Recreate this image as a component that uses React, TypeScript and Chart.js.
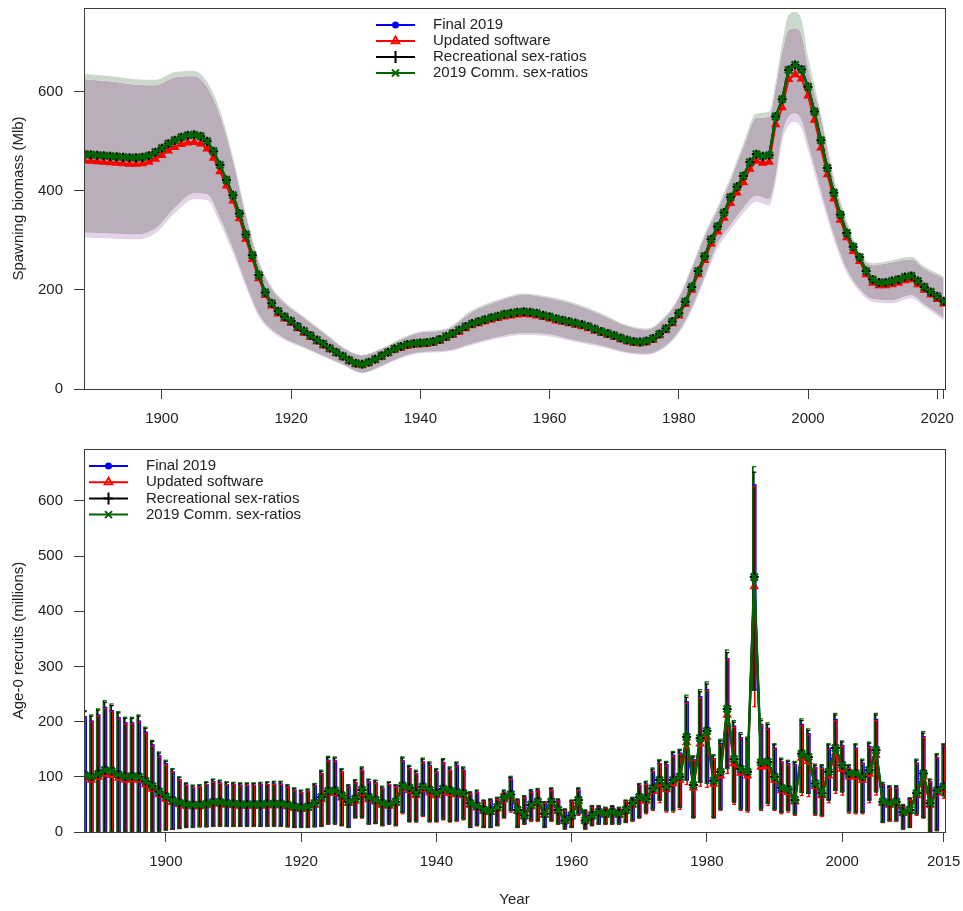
import React, { useEffect, useRef } from 'react';
import { Chart, registerables } from 'chart.js';

Chart.register(...registerables);

const FONT = "'Liberation Sans', Arial, Helvetica, sans-serif";
const TEXT = '#222222';
const AXIS = '#3c3c3c';

const seriesNames = ['Final 2019', 'Updated software', 'Recreational sex-ratios', '2019 Comm. sex-ratios'];
const seriesColors = ['#0000ff', '#ff0000', '#000000', '#006400'];
const seriesMarkers = ['circle', 'triangle', 'cross', 'crossRot'];

// ---------------- Spawning biomass (Mlb), 1888-2021 ----------------
const spawnFirstYear = 1888;
const spawnComm = [
  474, 473,
  472, 471, 470, 469, 468, 467, 467, 468, 471, 478,
  486, 495, 502, 508, 512, 513, 510, 500, 480, 452,
  422, 391, 354, 312, 270, 230, 195, 173, 157, 146,
  137, 126, 117, 108, 99, 91, 82, 74, 66, 58,
  52, 50, 54, 60, 67, 74, 81, 86, 90, 92,
  93, 94, 96, 100, 106, 112, 119, 126, 132, 136,
  140, 144, 147, 151, 153, 155, 156, 155, 153, 149,
  146, 142, 139, 136, 133, 130, 126, 121, 116, 112,
  108, 103, 99, 96, 95, 97, 102, 111, 122, 136,
  153, 176, 206, 238, 268, 302, 328, 356, 387, 408,
  430, 458, 474, 470, 472, 550, 585, 644, 654, 645,
  610, 560, 502, 446, 396, 352, 315, 287, 266, 238,
  221, 215, 215, 218, 221, 226, 228, 218, 206, 196,
  187, 177,
];
const spawnRec = [
  474, 473,
  472, 471, 470, 469, 468, 467, 467, 468, 471, 478,
  486, 495, 502, 508, 512, 513, 510, 500, 480, 452,
  422, 391, 354, 312, 270, 230, 195, 173, 157, 146,
  137, 126, 117, 108, 99, 91, 82, 74, 66, 58,
  52, 50, 54, 60, 67, 74, 81, 86, 90, 92,
  93, 94, 96, 100, 106, 112, 119, 126, 132, 136,
  140, 144, 147, 151, 153, 155, 156, 155, 153, 149,
  146, 142, 139, 136, 133, 130, 126, 121, 116, 112,
  108, 103, 99, 96, 95, 97, 102, 111, 122, 136,
  153, 176, 206, 238, 268, 302, 328, 356, 387, 408,
  430, 458, 474, 470, 472, 550, 585, 644, 654, 645,
  610, 560, 502, 446, 396, 352, 315, 287, 266, 238,
  221, 215, 215, 218, 221, 226, 228, 218, 206, 196,
  187, 177,
];
const spawnFinal = [
  474, 473,
  472, 471, 470, 469, 468, 467, 467, 468, 471, 478,
  486, 495, 502, 508, 512, 513, 510, 500, 480, 452,
  422, 391, 354, 312, 270, 230, 195, 173, 157, 146,
  137, 126, 117, 108, 99, 91, 82, 74, 66, 58,
  52, 50, 54, 60, 67, 74, 81, 86, 90, 92,
  93, 94, 96, 100, 106, 112, 119, 126, 132, 136,
  140, 144, 147, 151, 153, 155, 156, 155, 153, 149,
  146, 142, 139, 136, 133, 130, 126, 121, 116, 112,
  108, 103, 99, 96, 95, 97, 102, 111, 122, 136,
  153, 176, 206, 238, 268, 302, 328, 356, 387, 408,
  430, 458, 474, 470, 472, 550, 585, 644, 654, 645,
  610, 560, 502, 446, 396, 352, 315, 287, 266, 238,
  221, 215, 215, 218, 221, 226, 228, 218, 206, 196,
  187, 177,
];
const spawnUpdated = [
  461, 460,
  459, 458, 457, 456, 455, 454, 454, 455, 458, 464,
  472, 481, 488, 494, 497, 498, 495, 485, 466, 439,
  410, 380, 344, 303, 262, 223, 189, 168, 152, 142,
  133, 122, 113, 105, 96, 88, 80, 72, 64, 56,
  50, 48, 52, 58, 65, 72, 79, 83, 87, 89,
  90, 91, 93, 97, 103, 109, 115, 122, 128, 132,
  136, 140, 143, 146, 148, 150, 151, 150, 148, 145,
  142, 138, 135, 132, 129, 126, 122, 117, 113, 109,
  105, 100, 96, 93, 92, 94, 99, 108, 118, 132,
  148, 171, 200, 231, 260, 293, 318, 345, 375, 396,
  417, 444, 460, 456, 458, 534, 568, 625, 635, 626,
  592, 543, 487, 433, 384, 341, 306, 278, 258, 231,
  214, 209, 209, 211, 214, 219, 221, 211, 200, 190,
  181, 172,
];

// confidence bands (edges read at these years)
const bandYears = [
  1888, 1892, 1896, 1899, 1902, 1905, 1907, 1909, 1911, 1913,
  1915, 1917, 1919, 1922, 1925, 1928, 1931, 1934, 1937, 1940,
  1944, 1948, 1952, 1956, 1960, 1964, 1968, 1972, 1975, 1978,
  1980, 1982, 1984, 1986, 1988, 1990, 1992, 1994, 1995, 1996,
  1997, 1998, 1999, 2000, 2002, 2004, 2006, 2008, 2010, 2013,
  2016, 2018, 2021,
];
const bandCommHi = [
  636, 632, 625, 624, 640, 642, 620, 562, 469, 355,
  260, 206, 176, 146, 116, 85, 69, 82, 102, 116,
  122, 159, 180, 193, 186, 173, 153, 129, 122, 149,
  186, 247, 314, 368, 428, 496, 556, 560, 620, 698,
  755, 761, 745, 671, 556, 428, 341, 274, 254, 260,
  267, 247, 227,
];
const bandUpdHi = [
  625, 621, 614, 613, 629, 631, 609, 552, 461, 349,
  256, 203, 173, 144, 114, 84, 68, 81, 100, 114,
  120, 156, 177, 190, 183, 170, 150, 127, 120, 146,
  183, 243, 309, 362, 421, 488, 547, 550, 609, 680,
  725, 728, 715, 650, 547, 421, 335, 269, 250, 256,
  262, 243, 223,
];
const bandCommLo = [
  316, 314, 312, 324, 366, 395, 393, 345, 283, 213,
  151, 120, 102, 85, 67, 50, 33, 47, 64, 74,
  77, 92, 105, 113, 110, 98, 88, 74, 71, 88,
  116, 164, 227, 293, 331, 366, 390, 383, 431, 514,
  550, 556, 543, 497, 400, 311, 242, 202, 182, 179,
  189, 171, 144,
];
const bandUpdLo = [
  306, 304, 302, 314, 355, 383, 381, 334, 274, 206,
  146, 116, 99, 82, 65, 48, 32, 45, 62, 72,
  75, 89, 102, 109, 106, 95, 85, 72, 69, 85,
  112, 159, 220, 284, 321, 355, 378, 371, 418, 499,
  533, 539, 526, 482, 388, 301, 234, 196, 176, 173,
  183, 166, 139,
];

const topXTicks = [1900, 1920, 1940, 1960, 1980, 2000, 2020, 2021];
const topXTickLabels = ['1900', '1920', '1940', '1960', '1980', '2000', '2020', ''];
const topYTicks = [0, 200, 400, 600];
const topYTickLabels = ['0', '200', '400', '600'];

// ---------------- Age-0 recruits (millions), 1888-2015 ----------------
const recFirstYear = 1888;
const recComm = [
  103, 100,
  105, 112, 110, 104, 100, 101, 100, 92, 83, 73,
  64, 57, 53, 50, 49, 49, 51, 54, 54, 52,
  51, 50, 50, 50, 50, 51, 51, 51, 49, 46,
  44, 46, 52, 63, 74, 75, 66, 55, 60, 76,
  63, 58, 52, 50, 55, 84, 80, 70, 82, 76,
  70, 78, 75, 72, 70, 52, 47, 40, 38, 45,
  63, 68, 40, 30, 49, 55, 33, 55, 40, 21,
  30, 58, 21, 30, 36, 33, 36, 33, 40, 52,
  63, 60, 79, 94, 82, 94, 100, 172, 85, 170,
  183, 93, 109, 223, 132, 114, 109, 462, 126, 127,
  100, 80, 77, 58, 142, 136, 88, 70, 109, 152,
  121, 106, 106, 100, 112, 148, 55, 52, 55, 36,
  40, 70, 106, 52, 75, 82,
];
const recRec = [
  103, 100,
  105, 112, 110, 104, 100, 101, 100, 92, 83, 73,
  64, 57, 53, 50, 49, 49, 51, 54, 54, 52,
  51, 50, 50, 50, 50, 51, 51, 51, 49, 46,
  44, 46, 52, 63, 74, 75, 66, 55, 60, 76,
  63, 58, 52, 50, 55, 84, 80, 70, 82, 76,
  70, 78, 75, 72, 70, 52, 47, 40, 38, 45,
  63, 68, 40, 30, 49, 55, 33, 55, 40, 21,
  30, 58, 21, 30, 36, 33, 36, 33, 40, 52,
  63, 60, 79, 94, 82, 94, 100, 172, 85, 170,
  183, 93, 109, 223, 132, 114, 109, 462, 126, 127,
  100, 80, 77, 58, 142, 136, 88, 70, 109, 152,
  121, 106, 106, 100, 112, 148, 55, 52, 55, 36,
  40, 70, 106, 52, 75, 82,
];
const recFinal = [
  103, 100,
  105, 112, 110, 104, 100, 101, 100, 92, 83, 73,
  64, 57, 53, 50, 49, 49, 51, 54, 54, 52,
  51, 50, 50, 50, 50, 51, 51, 51, 49, 46,
  44, 46, 52, 63, 74, 75, 66, 55, 60, 76,
  63, 58, 52, 50, 55, 84, 80, 70, 82, 76,
  70, 78, 75, 72, 70, 52, 47, 40, 38, 45,
  63, 68, 40, 30, 49, 55, 33, 55, 40, 21,
  30, 58, 21, 30, 36, 33, 36, 33, 40, 52,
  63, 60, 79, 94, 82, 94, 100, 172, 85, 170,
  183, 93, 109, 223, 132, 114, 109, 462, 126, 127,
  100, 80, 77, 58, 142, 136, 88, 70, 109, 152,
  121, 106, 106, 100, 112, 148, 55, 52, 55, 36,
  40, 70, 106, 52, 75, 82,
];
const recUpdated = [
  97, 94,
  99, 105, 103, 98, 94, 95, 94, 86, 78, 68,
  60, 54, 50, 47, 46, 46, 48, 51, 51, 49,
  48, 47, 47, 47, 47, 48, 48, 48, 46, 43,
  41, 43, 49, 59, 70, 70, 62, 52, 56, 71,
  59, 55, 49, 47, 52, 79, 75, 66, 77, 71,
  66, 73, 70, 68, 66, 49, 44, 38, 36, 42,
  59, 64, 38, 28, 46, 52, 31, 52, 38, 20,
  28, 55, 20, 28, 34, 31, 34, 31, 38, 49,
  59, 56, 74, 88, 77, 88, 94, 162, 80, 160,
  172, 87, 102, 212, 124, 107, 102, 445, 118, 119,
  94, 75, 72, 55, 134, 128, 83, 66, 102, 143,
  114, 100, 100, 94, 105, 139, 52, 49, 52, 34,
  38, 66, 100, 49, 71, 77,
];

const ciCommHi = [
  220, 212,
  223, 238, 232, 218, 208, 208, 212, 190, 166, 145,
  130, 115, 100, 89, 85, 86, 91, 96, 94, 91,
  90, 89, 89, 89, 90, 91, 92, 92, 86, 80,
  76, 78, 88, 112, 137, 136, 115, 86, 95, 118,
  96, 94, 83, 91, 86, 136, 121, 112, 134, 127,
  115, 133, 118, 127, 118, 73, 76, 58, 60, 63,
  76, 101, 60, 66, 77, 79, 55, 80, 60, 42,
  58, 80, 40, 48, 48, 45, 48, 45, 58, 63,
  88, 92, 116, 131, 128, 146, 150, 248, 138, 258,
  272, 140, 168, 330, 202, 180, 172, 662, 205, 198,
  160, 134, 130, 128, 205, 187, 123, 122, 160, 215,
  165, 122, 160, 132, 163, 215, 90, 84, 84, 50,
  62, 132, 182, 96, 142, 160,
];
const ciCommLo = [
  0, 0,
  0, 0, 0, 0, 0, 0, 0, 0, 0, 2,
  4, 5, 7, 9, 9, 10, 10, 11, 11, 11,
  11, 11, 11, 11, 11, 11, 11, 11, 10, 9,
  9, 9, 10, 11, 15, 15, 12, 9, 27, 27,
  15, 16, 12, 15, 12, 36, 20, 20, 30, 20,
  20, 24, 20, 21, 24, 9, 12, 9, 9, 12,
  27, 39, 9, 15, 21, 21, 9, 21, 15, 6,
  9, 33, 6, 12, 15, 15, 15, 15, 18, 21,
  27, 36, 42, 58, 39, 39, 45, 94, 27, 90,
  88, 27, 42, 115, 54, 42, 39, 257, 42, 52,
  42, 36, 39, 33, 72, 70, 33, 30, 58, 76,
  73, 37, 36, 36, 58, 73, 18, 21, 21, 6,
  9, 33, 27, 0, 3, 66,
];
const ciRecHi = [
  218, 210,
  221, 235, 229, 216, 206, 206, 210, 188, 164, 143,
  128, 114, 99, 88, 84, 85, 90, 95, 93, 90,
  89, 88, 88, 88, 89, 90, 91, 91, 85, 79,
  75, 77, 87, 110, 135, 134, 113, 85, 94, 116,
  95, 93, 82, 90, 85, 134, 119, 110, 132, 125,
  113, 131, 116, 125, 116, 72, 75, 57, 59, 62,
  75, 99, 59, 65, 76, 78, 54, 79, 59, 41,
  57, 79, 39, 47, 47, 44, 47, 44, 57, 62,
  87, 91, 114, 129, 126, 144, 148, 244, 136, 254,
  268, 138, 165, 325, 199, 177, 169, 652, 202, 195,
  158, 132, 128, 126, 202, 184, 121, 120, 158, 212,
  163, 120, 158, 130, 161, 212, 89, 83, 83, 49,
  61, 130, 179, 95, 140, 158,
];
const ciRecLo = [
  0, 0,
  0, 0, 0, 0, 0, 0, 0, 0, 0, 2,
  4, 5, 7, 9, 9, 10, 10, 11, 11, 11,
  11, 11, 11, 11, 11, 11, 11, 11, 10, 9,
  9, 9, 10, 11, 15, 15, 12, 9, 27, 27,
  15, 16, 12, 15, 12, 36, 20, 20, 30, 20,
  20, 24, 20, 21, 24, 9, 12, 9, 9, 12,
  27, 39, 9, 15, 21, 21, 9, 21, 15, 6,
  9, 33, 6, 12, 15, 15, 15, 15, 18, 21,
  27, 36, 42, 58, 39, 39, 45, 94, 27, 90,
  88, 27, 42, 115, 54, 42, 39, 257, 42, 52,
  42, 36, 39, 33, 72, 70, 33, 30, 58, 76,
  73, 37, 36, 36, 58, 73, 18, 21, 21, 6,
  9, 33, 27, 0, 3, 66,
];
const ciFinalHi = [
  209, 201,
  212, 226, 220, 207, 198, 198, 201, 181, 158, 138,
  124, 109, 95, 85, 81, 82, 86, 91, 89, 86,
  86, 85, 85, 85, 86, 86, 87, 87, 82, 76,
  72, 74, 84, 106, 130, 129, 109, 82, 90, 112,
  91, 89, 79, 86, 82, 129, 115, 106, 127, 121,
  109, 126, 112, 121, 112, 69, 72, 55, 57, 60,
  72, 96, 57, 63, 73, 75, 52, 76, 57, 40,
  55, 76, 38, 46, 46, 43, 46, 43, 55, 60,
  84, 87, 110, 124, 122, 139, 143, 236, 131, 245,
  258, 133, 160, 314, 192, 171, 163, 629, 195, 188,
  152, 127, 124, 122, 195, 178, 117, 116, 152, 204,
  157, 116, 152, 125, 155, 204, 86, 80, 80, 48,
  59, 125, 173, 91, 135, 152,
];
const ciFinalLo = [
  0, 0,
  0, 0, 0, 0, 0, 0, 0, 0, 0, 2,
  4, 5, 7, 9, 9, 10, 10, 11, 11, 11,
  11, 11, 11, 11, 11, 11, 11, 11, 10, 9,
  9, 9, 10, 11, 15, 15, 12, 9, 27, 27,
  15, 16, 12, 15, 12, 36, 20, 20, 30, 20,
  20, 24, 20, 21, 24, 9, 12, 9, 9, 12,
  27, 39, 9, 15, 21, 21, 9, 21, 15, 6,
  9, 33, 6, 12, 15, 15, 15, 15, 18, 21,
  27, 36, 42, 58, 39, 39, 45, 94, 27, 90,
  88, 27, 42, 115, 54, 42, 39, 257, 42, 52,
  42, 36, 39, 33, 72, 70, 33, 30, 58, 76,
  73, 37, 36, 36, 58, 73, 18, 21, 21, 6,
  9, 33, 27, 0, 3, 66,
];
const ciUpdHi = [
  207, 199,
  210, 224, 218, 205, 196, 196, 199, 179, 156, 136,
  122, 108, 94, 84, 80, 81, 86, 90, 88, 86,
  85, 84, 84, 84, 85, 86, 86, 86, 81, 75,
  71, 73, 83, 105, 129, 128, 108, 81, 89, 111,
  90, 88, 78, 86, 81, 128, 114, 105, 126, 119,
  108, 125, 111, 119, 111, 69, 71, 55, 56, 59,
  71, 95, 56, 62, 72, 74, 52, 75, 56, 39,
  55, 75, 38, 45, 45, 42, 45, 42, 55, 59,
  83, 86, 109, 123, 120, 137, 141, 233, 130, 242,
  256, 132, 158, 312, 190, 169, 162, 626, 193, 186,
  150, 126, 122, 120, 193, 176, 116, 115, 150, 202,
  155, 115, 150, 124, 153, 202, 85, 79, 79, 47,
  58, 124, 171, 90, 134, 156,
];
const ciUpdLo = [
  0, 0,
  0, 0, 0, 0, 0, 0, 0, 0, 0, 2,
  4, 5, 6, 8, 8, 9, 9, 10, 10, 10,
  10, 10, 10, 10, 10, 10, 10, 10, 9, 8,
  8, 8, 9, 10, 14, 14, 11, 8, 25, 25,
  14, 15, 11, 14, 11, 33, 18, 18, 28, 18,
  18, 22, 18, 19, 22, 8, 11, 8, 8, 11,
  25, 36, 8, 14, 19, 19, 8, 19, 14, 5,
  8, 30, 5, 11, 14, 14, 14, 14, 17, 19,
  25, 33, 39, 53, 36, 36, 41, 86, 25, 83,
  81, 25, 39, 106, 50, 39, 36, 227, 39, 48,
  39, 33, 36, 30, 66, 64, 30, 28, 53, 70,
  67, 34, 33, 33, 53, 67, 17, 19, 19, 5,
  8, 30, 25, 0, 2, 61,
];

const botXTicks = [1900, 1920, 1940, 1960, 1980, 2000, 2015];
const botXTickLabels = ['1900', '1920', '1940', '1960', '1980', '2000', '2015'];
const botYTicks = [0, 100, 200, 300, 400, 500, 600];
const botYTickLabels = ['0', '100', '200', '300', '400', '500', '600'];

// ---------------- helpers ----------------
const pts = (first: number, ys: number[]) => ys.map((y, i) => ({ x: first + i, y }));
const ptsAt = (xs: number[], ys: number[]) => xs.map((x, i) => ({ x, y: ys[i] }));
const font15 = { family: FONT, size: 15 };

function xScale(min: number, max: number, ticks: number[], labels: string[], height: number, title?: string) {
  return {
    type: 'linear', min, max, bounds: 'data', offset: false,
    afterBuildTicks: (s: any) => { s.ticks = ticks.map((v) => ({ value: v })); },
    afterFit: (s: any) => {
      s.height = height;
      s.paddingLeft = 0; s.paddingRight = 0; s.paddingTop = 0; s.paddingBottom = 0;
    },
    ticks: {
      autoSkip: false, maxRotation: 0, minRotation: 0, padding: 11, color: TEXT, font: font15,
      callback: (_v: any, i: number) => labels[i],
    },
    grid: { offset: false, drawOnChartArea: false, drawTicks: true, tickLength: 10, tickColor: AXIS, tickWidth: 1, color: AXIS },
    border: { display: false },
    title: title
      ? { display: true, text: title, color: TEXT, font: font15, padding: { top: 0, bottom: 2 } }
      : { display: false },
  };
}

function yScale(max: number, ticks: number[], labels: string[], title: string) {
  return {
    type: 'linear', min: 0, max, bounds: 'data',
    afterBuildTicks: (s: any) => { s.ticks = ticks.map((v) => ({ value: v })); },
    afterFit: (s: any) => {
      s.width = 84;
      s.paddingLeft = 0; s.paddingRight = 0; s.paddingTop = 0; s.paddingBottom = 0;
    },
    ticks: { padding: 11, color: TEXT, font: font15, callback: (_v: any, i: number) => labels[i] },
    grid: { drawOnChartArea: false, drawTicks: true, tickLength: 10, tickColor: AXIS, tickWidth: 1, color: AXIS },
    border: { display: false },
    title: { display: true, text: title, color: TEXT, font: font15, padding: { top: 10, bottom: 0 } },
  };
}

const boxPlugin = {
  id: 'rbox',
  afterDraw(chart: any) {
    const { ctx, chartArea } = chart;
    const l = Math.round(chartArea.left) + 0.5;
    const t = Math.round(chartArea.top) + 0.5;
    const r = Math.round(chartArea.right) + 0.5;
    const b = Math.round(chartArea.bottom) + 0.5;
    ctx.save();
    ctx.strokeStyle = AXIS;
    ctx.lineWidth = 1;
    ctx.strokeRect(l, t, r - l, b - t);
    ctx.restore();
  },
};

function drawMarker(ctx: CanvasRenderingContext2D, style: string, x: number, y: number, color: string) {
  ctx.save();
  ctx.strokeStyle = color;
  ctx.fillStyle = color;
  ctx.lineWidth = 2;
  ctx.beginPath();
  if (style === 'circle') {
    ctx.arc(x, y, 3.5, 0, Math.PI * 2);
    ctx.fill();
  } else if (style === 'triangle') {
    const r = 4.5;
    ctx.moveTo(x, y - r);
    ctx.lineTo(x + r * 0.87, y + r * 0.5);
    ctx.lineTo(x - r * 0.87, y + r * 0.5);
    ctx.closePath();
    ctx.lineWidth = 1.8;
    ctx.stroke();
  } else if (style === 'cross') {
    ctx.moveTo(x, y - 6);
    ctx.lineTo(x, y + 6);
    ctx.moveTo(x - 5, y);
    ctx.lineTo(x + 5, y);
    ctx.stroke();
  } else {
    const r = 3.5;
    ctx.moveTo(x - r, y - r);
    ctx.lineTo(x + r, y + r);
    ctx.moveTo(x + r, y - r);
    ctx.lineTo(x - r, y + r);
    ctx.stroke();
  }
  ctx.restore();
}

function makeLegend(x0: number, x1: number, tx: number, y0: number, dy: number) {
  return {
    id: 'rlegend',
    afterDraw(chart: any) {
      const ctx = chart.ctx as CanvasRenderingContext2D;
      ctx.save();
      seriesNames.forEach((name, i) => {
        const y = y0 + i * dy;
        ctx.strokeStyle = seriesColors[i];
        ctx.lineWidth = 2;
        ctx.beginPath();
        ctx.moveTo(x0, y);
        ctx.lineTo(x1, y);
        ctx.stroke();
        drawMarker(ctx, seriesMarkers[i], (x0 + x1) / 2, y, seriesColors[i]);
        ctx.fillStyle = TEXT;
        ctx.font = `15px ${FONT}`;
        ctx.textBaseline = 'middle';
        ctx.textAlign = 'left';
        ctx.fillText(name, tx, y);
      });
      ctx.restore();
    },
  };
}

const markerRadius = [3, 4, 4.5, 5];
const markerBorder = [1, 1.5, 2, 2.6];

function seriesLine(i: number, data: any[], order: number) {
  const c = seriesColors[i];
  return {
    type: 'line', data, order, fill: false, tension: 0,
    borderColor: c, borderWidth: i === 3 ? 2.5 : 2,
    pointStyle: seriesMarkers[i], pointRadius: markerRadius[i],
    pointBorderColor: c, pointBackgroundColor: c, pointBorderWidth: markerBorder[i],
  };
}

function bandLine(data: any[], fill: any, color: string) {
  return {
    type: 'line', data, order: 20, fill, backgroundColor: color,
    borderWidth: 0, borderColor: 'rgba(0,0,0,0)', pointRadius: 0,
    tension: 0.4, cubicInterpolationMode: 'monotone',
  };
}

function buildTop() {
  const series = [spawnFinal, spawnUpdated, spawnRec, spawnComm];
  return {
    type: 'line',
    data: {
      datasets: [
        bandLine(ptsAt(bandYears, bandCommHi), '+1', '#cdd8cd'),
        bandLine(ptsAt(bandYears, bandUpdHi), '+1', '#b9aeba'),
        bandLine(ptsAt(bandYears, bandCommLo), '+1', '#e4d2e8'),
        bandLine(ptsAt(bandYears, bandUpdLo), false, 'rgba(0,0,0,0)'),
        ...series.map((s, i) => seriesLine(i, pts(spawnFirstYear, s), 4 - i)),
      ],
    },
    options: {
      responsive: false, animation: false, events: [],
      layout: { padding: { top: 8, right: 18, left: 0, bottom: 0 } },
      plugins: { legend: { display: false }, tooltip: { enabled: false } },
      scales: {
        x: xScale(1887.95, 2021.2, topXTicks, topXTickLabels, 41),
        y: yScale(769, topYTicks, topYTickLabels, 'Spawning biomass (Mlb)'),
      },
    },
    plugins: [boxPlugin, makeLegend(376, 415, 433, 25, 16)],
  };
}

function buildBottom() {
  const mids = [recFinal, recUpdated, recRec, recComm];
  const his = [ciFinalHi, ciUpdHi, ciRecHi, ciCommHi];
  const los = [ciFinalLo, ciUpdLo, ciRecLo, ciCommLo];
  const bars = mids.map((_, i) => ({
    type: 'bar', order: 12 - i,
    data: his[i].map((h, k) => ({ x: recFirstYear + k, y: [los[i][k], h] })),
    backgroundColor: seriesColors[i], borderWidth: 0, barThickness: 1, grouped: true,
  }));
  const caps: any[] = [];
  mids.forEach((_, i) => {
    [his[i], los[i]].forEach((arr) => {
      caps.push({
        type: 'line', order: 8 - i, showLine: false, data: pts(recFirstYear, arr),
        pointStyle: 'line', pointRadius: 2, pointBorderWidth: 1.2,
        pointBorderColor: seriesColors[i], borderColor: seriesColors[i],
      });
    });
  });
  return {
    type: 'line',
    data: {
      datasets: [
        ...mids.map((s, i) => seriesLine(i, pts(recFirstYear, s), 4 - i)),
        ...caps,
        ...bars,
      ],
    },
    options: {
      responsive: false, animation: false, events: [],
      layout: { padding: { top: 19, right: 18, left: 0, bottom: 0 } },
      plugins: { legend: { display: false }, tooltip: { enabled: false } },
      scales: {
        x: xScale(1887.9, 2015.2, botXTicks, botXTickLabels, 79, 'Year'),
        y: yScale(694, botYTicks, botYTickLabels, 'Age-0 recruits (millions)'),
      },
    },
    plugins: [boxPlugin, makeLegend(89, 128, 146, 36, 16.2)],
  };
}

function ChartCanvas({ width, height, build }: { width: number; height: number; build: () => any }) {
  const ref = useRef<HTMLCanvasElement>(null);
  useEffect(() => {
    const chart = new Chart(ref.current as HTMLCanvasElement, build());
    return () => chart.destroy();
  }, []);
  return <canvas ref={ref} width={width} height={height} style={{ display: 'block', width, height }} />;
}

export default function App() {
  return (
    <div style={{ position: 'absolute', left: 0, top: 0, width: 963, height: 911, background: '#ffffff' }}>
      <ChartCanvas width={963} height={430} build={buildTop} />
      <ChartCanvas width={963} height={481} build={buildBottom} />
    </div>
  );
}
